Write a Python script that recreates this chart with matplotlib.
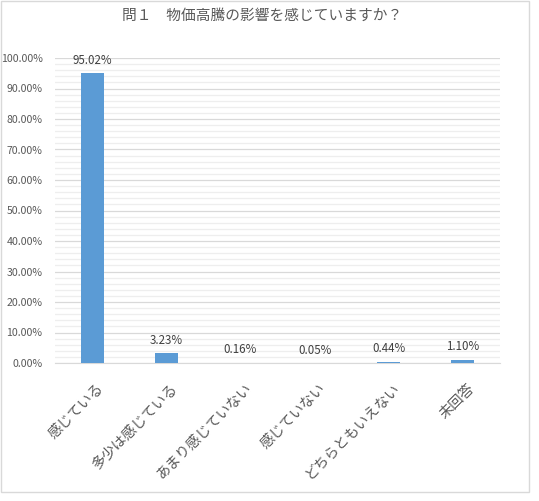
import numpy as np
import matplotlib
matplotlib.use("Agg")
import matplotlib.pyplot as plt
import matplotlib.transforms as mtransforms
from matplotlib.patches import Rectangle
from matplotlib.ticker import MultipleLocator, FuncFormatter

plt.rcParams['font.family'] = ['Noto Sans CJK JP', 'DejaVu Sans']

titulo = "問１　物価高騰の影響を感じていますか？"
categorias = ["感じている", "多少は感じている", "あまり感じていない",
              "感じていない", "どちらともいえない", "未回答"]
valores = [95.02, 3.23, 0.16, 0.05, 0.44, 1.10]

gris_txt = "#595959"
azul = "#5B9BD5"

fig = plt.figure(figsize=(5.39, 5.01), dpi=100)
ax = fig.add_axes([55/539, 1-363/501, 445/539, 305/501])

x = np.arange(len(categorias))
ax.bar(x, valores, width=0.31, color=azul, zorder=3)

for xi, v in zip(x, valores):
    ax.annotate(f"{v:.2f}%", (xi, v), xytext=(0, 4.5), textcoords="offset points",
                ha="center", va="bottom", fontsize=8.3, color="#404040")

ax.set_xlim(-0.5, len(categorias)-0.5)
ax.set_ylim(0, 100)
ax.yaxis.set_major_locator(MultipleLocator(10))
ax.yaxis.set_minor_locator(MultipleLocator(2))
ax.yaxis.set_major_formatter(FuncFormatter(lambda v, p: f"{v:.2f}%"))
ax.grid(axis="y", which="major", color="#d9d9d9", lw=0.9, zorder=0)
ax.grid(axis="y", which="minor", color="#eeeeee", lw=0.9, zorder=0)
ax.tick_params(axis="y", which="both", length=0, labelsize=7.6, labelcolor=gris_txt, pad=9)
ax.tick_params(axis="x", length=0, pad=13)

ax.set_xticks(x)
ax.set_xticklabels(categorias, rotation=45, ha="right", rotation_mode="anchor",
                   fontsize=10.3, color=gris_txt)
# desplazar un poco las etiquetas a la derecha
desp = mtransforms.ScaledTranslation(4/100, 0, fig.dpi_scale_trans)
for lab in ax.get_xticklabels():
    lab.set_transform(lab.get_transform() + desp)
for s in ["top", "right", "left"]:
    ax.spines[s].set_visible(False)
ax.spines["bottom"].set_color("#d9d9d9")

fig.text(0.487, 1-16/501, titulo, ha="center", va="center", fontsize=10.6, color=gris_txt)

fig.patches.append(Rectangle((1/539, 1-492/501), 528/539, 491/501, transform=fig.transFigure,
                             fill=False, edgecolor="#d9d9d9", lw=1))

fig.savefig("out.png", dpi=100)
